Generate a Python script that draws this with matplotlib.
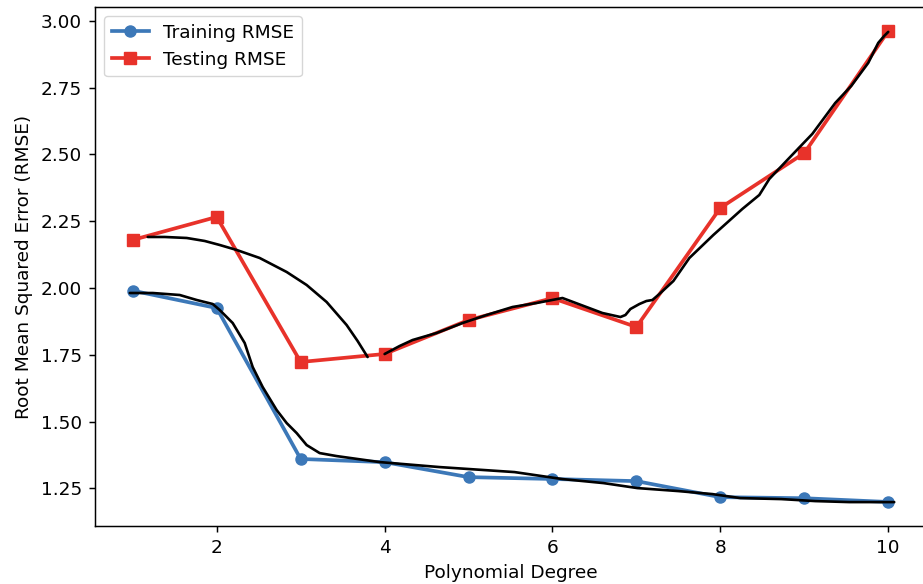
import matplotlib
matplotlib.use("Agg")
import matplotlib.pyplot as plt

degrees = [1, 2, 3, 4, 5, 6, 7, 8, 9, 10]
train_rmse = [1.99, 1.925, 1.36, 1.348, 1.292, 1.285, 1.277, 1.217, 1.213, 1.199]
test_rmse = [2.18, 2.266, 1.723, 1.753, 1.88, 1.962, 1.854, 2.30, 2.505, 2.962]
yticks = [1.25, 1.50, 1.75, 2.00, 2.25, 2.50, 2.75, 3.00]
xticks = [2, 4, 6, 8, 10]

# hand-drawn black annotation strokes (pixel coordinates)
stroke_a_px = [(148, 237), (165, 237), (187, 238), (205, 241), (220, 245), (237, 250),
               (260, 258), (287, 272), (307, 285), (327, 302), (347, 325), (358, 341),
               (368, 357)]
stroke_b_px = [(385, 354), (400, 346), (413, 340), (437, 333), (463, 323), (487, 315),
               (513, 307), (537, 303), (563, 298), (587, 307), (603, 313), (621, 317),
               (626, 315), (631, 309), (640, 304), (647, 301), (653, 300), (660, 294),
               (674, 281), (690, 258), (714, 235), (743, 209), (760, 195), (770, 179),
               (789, 159), (813, 134), (836, 103), (852, 86), (869, 63), (879, 43),
               (885, 36), (889, 32)]
stroke_c_px = [(130, 293), (153, 293), (180, 295), (197, 300), (205, 302), (213, 304),
               (220, 310), (233, 323), (245, 343), (253, 367), (263, 387), (277, 410),
               (287, 423), (297, 433), (307, 445), (320, 453), (337, 456), (380, 462),
               (440, 467), (515, 472), (563, 479), (604, 483), (638, 488), (679, 491),
               (713, 494), (741, 498), (782, 499), (816, 501), (850, 502), (895, 502)]


def px_to_data(pts):
    xs = [1 + (px - 133) / 84.0 for px, _ in pts]
    ys = [2 + (288 - py) / 267.0 for _, py in pts]
    return xs, ys


S = 1.33
plt.rcParams.update({
    "font.size": 10 * S,
    "axes.linewidth": 0.8 * S,
    "xtick.major.size": 3.5 * S,
    "ytick.major.size": 3.5 * S,
    "xtick.major.width": 0.8 * S,
    "ytick.major.width": 0.8 * S,
    "xtick.major.pad": 3.5 * S,
    "ytick.major.pad": 3.5 * S,
})

fig = plt.figure(figsize=(9.23, 5.84), dpi=100)
ax = fig.add_axes([95 / 923, 1 - 526 / 584, (926 - 95) / 923, (526 - 7) / 584])

ax.plot(degrees, train_rmse, color="#3c78b8", marker="o", lw=2 * S, ms=6 * S,
        label="Training RMSE")
ax.plot(degrees, test_rmse, color="#e8322a", marker="s", lw=2 * S, ms=6 * S,
        label="Testing RMSE")

for pts in (stroke_a_px, stroke_b_px, stroke_c_px):
    xs, ys = px_to_data(pts)
    ax.plot(xs, ys, color="black", lw=1.9, solid_capstyle="round",
            solid_joinstyle="round")

ax.set_xlim(0.55, 10.45)
ax.set_ylim(1.109, 3.052)
ax.set_xticks(xticks)
ax.set_yticks(yticks)
ax.set_xlabel("Polynomial Degree", labelpad=4 * S)
ax.set_ylabel("Root Mean Squared Error (RMSE)", labelpad=4 * S)
ax.legend(loc="upper left")

fig.savefig("out.png", dpi=100)
